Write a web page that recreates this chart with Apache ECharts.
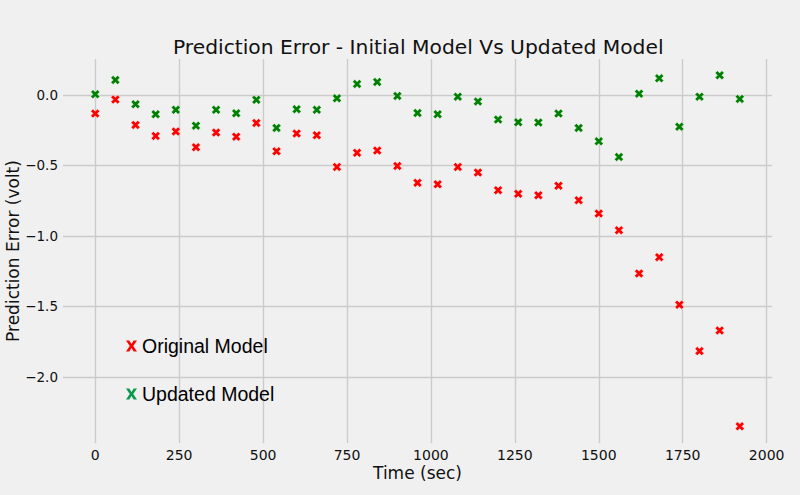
<!DOCTYPE html>
<html>
<head>
<meta charset="utf-8">
<script src="https://cdn.jsdelivr.net/npm/echarts@6/dist/echarts.min.js"></script>
<style>
  html, body { margin: 0; padding: 0; background: #f0f0f0; }
  #chart { width: 800px; height: 495px; }
</style>
</head>
<body>
<div id="chart"></div>
<script>
// Time of each measurement (sec)
const times = [0, 60, 120, 180, 240, 300, 360, 420, 480, 540, 600, 660, 720, 780, 840, 900, 960,
  1020, 1080, 1140, 1200, 1260, 1320, 1380, 1440, 1500, 1560, 1620, 1680, 1740, 1800, 1860, 1920]

// Prediction error (volt)
const originalError = [-0.132, -0.033, -0.213, -0.291, -0.260, -0.371, -0.267, -0.296, -0.199, -0.400,
  -0.274, -0.286, -0.511, -0.411, -0.395, -0.504, -0.624, -0.634, -0.511, -0.551, -0.676, -0.702,
  -0.712, -0.645, -0.747, -0.842, -0.960, -1.267, -1.151, -1.489, -1.818, -1.671, -2.352]
const updatedError = [0.005, 0.106, -0.066, -0.137, -0.106, -0.218, -0.106, -0.130, -0.035, -0.234,
  -0.101, -0.106, -0.024, 0.078, 0.092, -0.007, -0.128, -0.137, -0.012, -0.047, -0.175, -0.194,
  -0.196, -0.132, -0.234, -0.329, -0.440, 0.009, 0.118, -0.225, -0.012, 0.140, -0.028]

// Tick labels
const xTicks = [0, 250, 500, 750, 1000, 1250, 1500, 1750, 2000]
const yTicks = [0, -0.5, -1.0, -1.5, -2.0]

const seriesNames = ['Original Model', 'Updated Model']

// filled "X" marker like matplotlib's 'X'
const markerX = 'path://M2.5,0 L5,2.5 L7.5,0 L10,2.5 L7.5,5 L10,7.5 L7.5,10 L5,7.5 L2.5,10 L0,7.5 L2.5,5 L0,2.5 Z'
// lowercase "x" glyph for the legend
const glyphX = 'path://M0,0 L3,0 L5,3.2 L7,0 L10,0 L6.6,5 L10,10 L7,10 L5,6.8 L3,10 L0,10 L3.4,5 Z'

const gridColor = '#cbcbcb'
const tickFont = 'DejaVu Sans'

const pairs = (xs, ys) => xs.map((x, i) => [x, ys[i]])
const fmtY = v => (v === 0 ? '0.0' : v.toFixed(1).replace('-', '\u2212'))

let chart = echarts.init(document.getElementById('chart'), null, { renderer: 'svg' })

chart.setOption({
  backgroundColor: '#f0f0f0',
  animation: false,
  title: {
    // centred over the plot area, not the whole canvas
    text: 'Prediction Error - Initial Model Vs Updated Model',
    left: 168,
    top: 32,
    textStyle: { fontFamily: tickFont, fontSize: 20.25, fontWeight: 'normal', color: '#111' }
  },
  grid: { left: 63, right: 28, top: 59, bottom: 52, containLabel: false, outerBoundsMode: 'none' },
  legend: {
    orient: 'vertical',
    left: 121,
    top: 331,
    itemWidth: 11,
    itemHeight: 11,
    itemGap: 28,
    textStyle: { fontFamily: 'Liberation Sans', fontSize: 19.5, color: '#000' },
    data: [
      { name: seriesNames[0], icon: glyphX, itemStyle: { color: '#ff0000', opacity: 1, borderWidth: 0 } },
      { name: seriesNames[1], icon: glyphX, itemStyle: { color: '#0b9a4c', opacity: 1, borderWidth: 0 } }
    ]
  },
  xAxis: {
    type: 'value',
    min: -96,
    max: 2016,
    name: 'Time (sec)',
    nameLocation: 'middle',
    nameGap: 21,
    nameMoveOverlap: false,
    nameTextStyle: { fontFamily: tickFont, fontSize: 17, color: '#111' },
    axisLine: { show: false },
    axisTick: { show: false, customValues: xTicks },
    axisLabel: { customValues: xTicks, margin: 5, formatter: v => String(v), fontFamily: tickFont, fontSize: 14, color: '#111' },
    splitLine: { show: true, lineStyle: { color: gridColor, width: 1.4 } }
  },
  yAxis: {
    type: 'value',
    min: -2.47,
    max: 0.255,
    name: 'Prediction Error (volt)',
    nameLocation: 'middle',
    nameGap: 42,
    nameMoveOverlap: false,
    nameTextStyle: { fontFamily: tickFont, fontSize: 17, color: '#111' },
    axisLine: { show: false },
    axisTick: { show: false, customValues: yTicks },
    axisLabel: { customValues: yTicks, margin: 5, formatter: fmtY, fontFamily: tickFont, fontSize: 13.5, color: '#111' },
    splitLine: { show: true, lineStyle: { color: gridColor, width: 1.4 } }
  },
  series: [
    {
      name: seriesNames[0],
      type: 'scatter',
      data: pairs(times, originalError),
      symbol: markerX,
      symbolSize: 9,
      itemStyle: { color: '#ff0000', opacity: 1, borderColor: 'rgba(255,255,255,0.7)', borderWidth: 0.6 }
    },
    {
      name: seriesNames[1],
      type: 'scatter',
      data: pairs(times, updatedError),
      symbol: markerX,
      symbolSize: 9,
      itemStyle: { color: '#008000', opacity: 1, borderColor: 'rgba(255,255,255,0.7)', borderWidth: 0.6 }
    }
  ]
})
</script>
</body>
</html>
